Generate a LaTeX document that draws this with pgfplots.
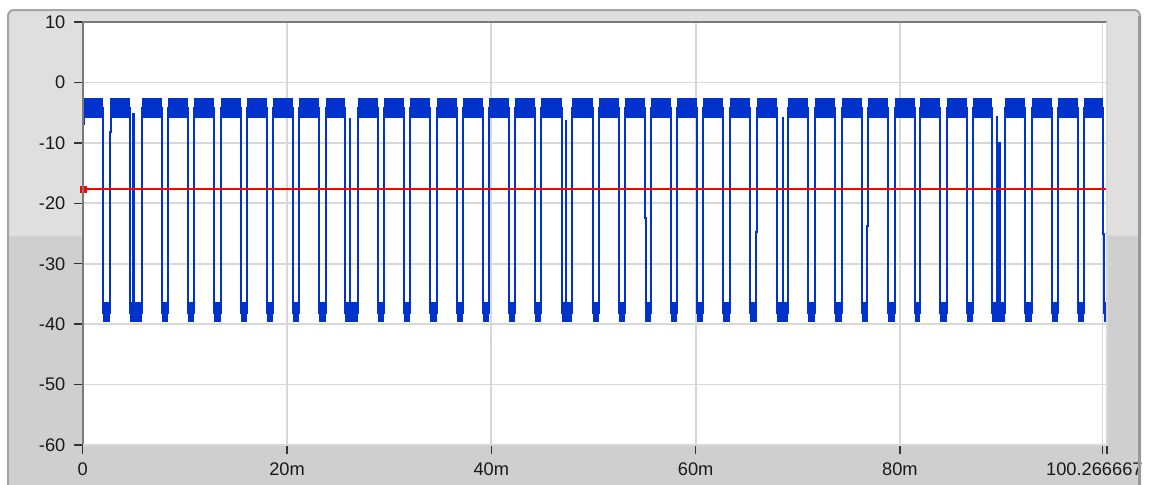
\documentclass[border=0pt]{standalone}
\usepackage{pgfplots}
\pgfplotsset{compat=1.18}
\usepackage{fontspec}
\setmainfont{Liberation Sans}
\definecolor{blue0}{HTML}{0033CC}
\definecolor{panelL}{HTML}{DFDFDF}
\definecolor{panelD}{HTML}{CFCFCF}
\definecolor{border}{HTML}{A5A5A5}
\definecolor{gridc}{HTML}{D8D8D8}
\definecolor{frameDark}{HTML}{7A7A7A}
\definecolor{frameLight}{HTML}{D8D8D8}
\begin{document}
\begin{tikzpicture}
% background panel (pixel coordinates, y downwards)
\begin{scope}[x=0.4pt,y=-0.4pt,yshift=193.6pt]
\fill[white] (0,0) rectangle (1149,484);
\fill[panelL,rounded corners=2.4pt] (8,10) rectangle (1140,520);
\fill[panelD] (9,236) rectangle (1139,500);
\draw[border,line width=0.8pt,rounded corners=2.4pt] (8,10) rectangle (1140,520);
\end{scope}
\begin{axis}[
  scale only axis, anchor=south west, at={(33.08pt,15.6pt)},
  width=409.7pt, height=169.2pt,
  xmin=0, xmax=100.266667, ymin=-60, ymax=10,
  axis line style={draw=none},
  axis background/.style={fill=white},
  xtick={0,20,40,60,80},
  xticklabels={0,20m,40m,60m,80m},
  extra x ticks={99.83,100.266667}, extra x tick labels={,100.266667m},
  extra x tick style={grid=major, xticklabel style={xshift=-2pt}},
  ytick={-60,-50,-40,-30,-20,-10,0,10},
  yticklabels={-60,-50,-40,-30,-20,-10,0,10},
  tick pos=left, tick align=outside,
  major tick length=3.4pt,
  tick style={color=black!80, line width=0.6pt},
  grid=major,
  major grid style={color=gridc, line width=0.7pt},
  tick label style={font=\fontsize{7.3}{8}\selectfont, text=black!90},
  unbounded coords=jump,
]
% high noise bands
\addplot[draw=blue0, line width=8pt, line cap=butt] coordinates {
(0.08,-4.3)(1.99,-4.3)(2.3,nan)
(2.72,-4.3)(4.63,-4.3)(5.2,nan)
(5.80,-4.3)(7.76,-4.3)(8.0,nan)
(8.35,-4.3)(10.31,-4.3)(10.5,nan)
(10.89,-4.3)(12.85,-4.3)(13.0,nan)
(13.54,-4.3)(15.49,-4.3)(15.7,nan)
(16.08,-4.3)(18.04,-4.3)(18.3,nan)
(18.62,-4.3)(20.58,-4.3)(20.8,nan)
(21.17,-4.3)(23.13,-4.3)(23.4,nan)
(23.81,-4.3)(25.67,-4.3)(26.0,nan)
(26.95,-4.3)(28.90,-4.3)(29.2,nan)
(29.49,-4.3)(31.45,-4.3)(31.7,nan)
(32.03,-4.3)(33.99,-4.3)(34.3,nan)
(34.68,-4.3)(36.64,-4.3)(36.9,nan)
(37.22,-4.3)(39.18,-4.3)(39.4,nan)
(39.76,-4.3)(41.72,-4.3)(42.0,nan)
(42.31,-4.3)(44.26,-4.3)(44.5,nan)
(44.85,-4.3)(46.90,-4.3)(47.1,nan)
(47.89,-4.3)(49.95,-4.3)(50.2,nan)
(50.53,-4.3)(52.49,-4.3)(52.8,nan)
(53.08,-4.3)(55.04,-4.3)(55.3,nan)
(55.62,-4.3)(57.58,-4.3)(57.9,nan)
(58.17,-4.3)(60.13,-4.3)(60.4,nan)
(60.71,-4.3)(62.67,-4.3)(63.0,nan)
(63.36,-4.3)(65.31,-4.3)(65.6,nan)
(66.00,-4.3)(67.96,-4.3)(68.2,nan)
(69.03,-4.3)(70.99,-4.3)(71.3,nan)
(71.67,-4.3)(73.63,-4.3)(73.9,nan)
(74.31,-4.3)(76.27,-4.3)(76.5,nan)
(76.86,-4.3)(78.82,-4.3)(79.1,nan)
(79.50,-4.3)(81.46,-4.3)(81.7,nan)
(81.95,-4.3)(83.91,-4.3)(84.2,nan)
(84.59,-4.3)(86.55,-4.3)(86.8,nan)
(87.14,-4.3)(89.00,-4.3)(89.3,nan)
(90.27,-4.3)(92.23,-4.3)(92.5,nan)
(92.91,-4.3)(94.87,-4.3)(95.1,nan)
(95.46,-4.3)(97.42,-4.3)(97.7,nan)
(98.00,-4.3)(99.83,-4.3)
};
% low noise bands
\addplot[draw=blue0, line width=8pt, line cap=butt] coordinates {
(1.99,-38)(2.67,-38)(3.0,nan)
(4.63,-38)(5.80,-38)(6.0,nan)
(7.76,-38)(8.35,-38)(8.6,nan)
(10.31,-38)(10.89,-38)(11.1,nan)
(12.85,-38)(13.54,-38)(13.8,nan)
(15.49,-38)(16.08,-38)(16.3,nan)
(18.04,-38)(18.62,-38)(18.9,nan)
(20.58,-38)(21.17,-38)(21.4,nan)
(23.13,-38)(23.81,-38)(24.0,nan)
(25.67,-38)(26.95,-38)(27.2,nan)
(28.90,-38)(29.49,-38)(29.7,nan)
(31.45,-38)(32.03,-38)(32.3,nan)
(33.99,-38)(34.68,-38)(34.9,nan)
(36.64,-38)(37.22,-38)(37.5,nan)
(39.18,-38)(39.76,-38)(40.0,nan)
(41.72,-38)(42.31,-38)(42.5,nan)
(44.26,-38)(44.85,-38)(45.1,nan)
(46.90,-38)(47.89,-38)(48.1,nan)
(49.95,-38)(50.53,-38)(50.8,nan)
(52.49,-38)(53.08,-38)(53.3,nan)
(55.04,-38)(55.62,-38)(55.9,nan)
(57.58,-38)(58.17,-38)(58.4,nan)
(60.13,-38)(60.71,-38)(61.0,nan)
(62.67,-38)(63.36,-38)(63.6,nan)
(65.31,-38)(66.00,-38)(66.2,nan)
(67.96,-38)(69.03,-38)(69.3,nan)
(70.99,-38)(71.67,-38)(71.9,nan)
(73.63,-38)(74.31,-38)(74.6,nan)
(76.27,-38)(76.86,-38)(77.1,nan)
(78.82,-38)(79.50,-38)(79.7,nan)
(81.46,-38)(81.95,-38)(82.2,nan)
(83.91,-38)(84.59,-38)(84.8,nan)
(86.55,-38)(87.14,-38)(87.4,nan)
(89.00,-38)(90.27,-38)(90.5,nan)
(92.23,-38)(92.91,-38)(93.2,nan)
(94.87,-38)(95.46,-38)(95.7,nan)
(97.42,-38)(98.00,-38)(98.3,nan)
(99.99,-38)(100.27,-38)
};
% waveform
\addplot[draw=blue0, line width=0.8pt] coordinates {
(0,-38.8)(0,-6.8)(0.1,-6.8)(0.1,-4.3)(1.99,-4.3)(1.99,-38.2)
(2.67,-38.2)(2.67,-8.2)(2.75,-8.2)(2.75,-4.3)(4.63,-4.3)(4.63,-38.2)
(4.95,-38.2)(4.95,-5.3)(5.0,-5.3)(5.0,-38.2)
(5.80,-38.2)(5.80,-4.3)(7.76,-4.3)(7.76,-38.2)
(8.35,-38.2)(8.35,-4.3)(10.31,-4.3)(10.31,-38.2)
(10.89,-38.2)(10.89,-4.3)(12.85,-4.3)(12.85,-38.2)
(13.54,-38.2)(13.54,-4.3)(15.49,-4.3)(15.49,-38.2)
(16.08,-38.2)(16.08,-4.3)(18.04,-4.3)(18.04,-38.2)
(18.62,-38.2)(18.62,-4.3)(20.58,-4.3)(20.58,-38.2)
(21.17,-38.2)(21.17,-4.3)(23.13,-4.3)(23.13,-38.2)
(23.81,-38.2)(23.81,-4.3)(25.67,-4.3)(25.67,-38.2)
(26.16,-38.2)(26.16,-6.0)(26.21,-6.0)(26.21,-38.2)
(26.95,-38.2)(26.95,-4.3)(28.90,-4.3)(28.90,-38.2)
(29.49,-38.2)(29.49,-4.3)(31.45,-4.3)(31.45,-38.2)
(32.03,-38.2)(32.03,-4.3)(33.99,-4.3)(33.99,-38.2)
(34.68,-38.2)(34.68,-4.3)(36.64,-4.3)(36.64,-38.2)
(37.22,-38.2)(37.22,-4.3)(39.18,-4.3)(39.18,-38.2)
(39.76,-38.2)(39.76,-4.3)(41.72,-4.3)(41.72,-38.2)
(42.31,-38.2)(42.31,-4.3)(44.26,-4.3)(44.26,-38.2)
(44.85,-38.2)(44.85,-4.3)(46.90,-4.3)(46.90,-38.2)
(47.27,-38.2)(47.27,-6.3)(47.32,-6.3)(47.32,-38.2)
(47.89,-38.2)(47.89,-4.3)(49.95,-4.3)(49.95,-38.2)
(50.53,-38.2)(50.53,-4.3)(52.49,-4.3)(52.49,-38.2)
(53.08,-38.2)(53.08,-4.3)(55.04,-4.3)(55.04,-22.5)(55.12,-22.5)(55.12,-38.2)
(55.62,-38.2)(55.62,-4.3)(57.58,-4.3)(57.58,-38.2)
(58.17,-38.2)(58.17,-4.3)(60.13,-4.3)(60.13,-38.2)
(60.71,-38.2)(60.71,-4.3)(62.67,-4.3)(62.67,-38.2)
(63.36,-38.2)(63.36,-4.3)(65.31,-4.3)(65.31,-38.2)
(65.92,-38.2)(65.92,-24.8)(66.00,-24.8)(66.00,-4.3)(67.96,-4.3)(67.96,-38.2)
(68.53,-38.2)(68.53,-5.9)(68.58,-5.9)(68.58,-38.2)
(69.03,-38.2)(69.03,-4.3)(70.99,-4.3)(70.99,-38.2)
(71.67,-38.2)(71.67,-4.3)(73.63,-4.3)(73.63,-38.2)
(74.31,-38.2)(74.31,-4.3)(76.27,-4.3)(76.27,-38.2)
(76.80,-38.2)(76.80,-23.7)(76.86,-23.7)(76.86,-4.3)(78.82,-4.3)(78.82,-38.2)
(79.50,-38.2)(79.50,-4.3)(81.46,-4.3)(81.46,-38.2)
(81.95,-38.2)(81.95,-4.3)(83.91,-4.3)(83.91,-38.2)
(84.59,-38.2)(84.59,-4.3)(86.55,-4.3)(86.55,-38.2)
(87.14,-38.2)(87.14,-4.3)(89.00,-4.3)(89.00,-38.2)
(89.49,-38.2)(89.49,-5.7)(89.54,-5.7)(89.54,-38.2)(89.71,-38.2)(89.71,-10.0)(89.76,-10.0)(89.76,-38.2)
(90.27,-38.2)(90.27,-4.3)(92.23,-4.3)(92.23,-38.2)
(92.91,-38.2)(92.91,-4.3)(94.87,-4.3)(94.87,-38.2)
(95.46,-38.2)(95.46,-4.3)(97.42,-4.3)(97.42,-38.2)
(98.00,-38.2)(98.00,-4.3)(99.83,-4.3)(99.83,-25)(99.99,-25)(99.99,-38.2)(100.27,-38.2)
};
% red level line and cursor
\addplot[draw=red, line width=0.8pt] coordinates {(0,-17.7)(100.266667,-17.7)};
\addplot[only marks, mark=square*, mark size=1.1pt, color=red] coordinates {(0.1,-17.7)};
\end{axis}
\begin{scope}[x=0.4pt,y=-0.4pt,yshift=193.6pt]
\draw[frameDark,line width=0.8pt] (82.7,445) -- (82.7,21.5) -- (1107,21.5);
\draw[frameLight,line width=0.6pt] (1107,21.5) -- (1107,445) -- (82.7,445);
\fill[white] (1142.5,0) rectangle (1160,484);
\draw[black!40,line width=1.3pt] (1139.5,16) -- (1139.5,490);
\end{scope}
\pgfresetboundingbox
\path[use as bounding box] (0,0) rectangle (459.6pt,193.6pt);
\end{tikzpicture}
\end{document}
